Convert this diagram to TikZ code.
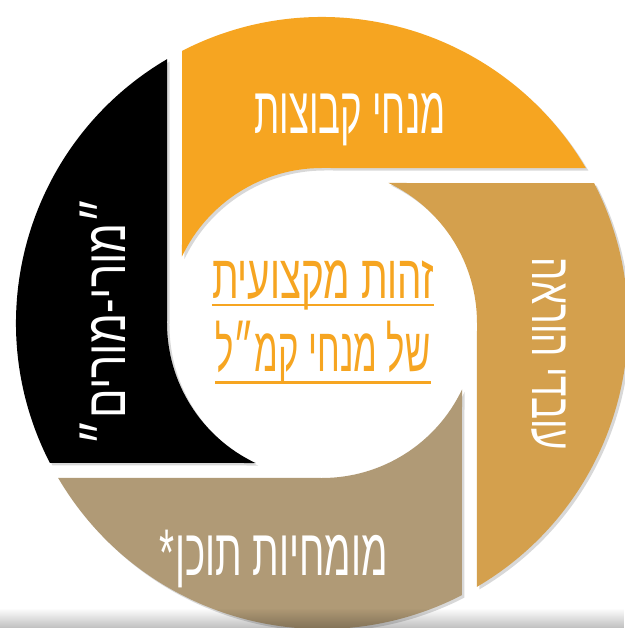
\documentclass[tikz,border=0pt]{standalone}
\usepackage{fontspec}
\newfontfamily\hebfont[Script=Hebrew]{Liberation Sans}
\TeXXeTstate=1
\usepackage{tikz}
\usetikzlibrary{positioning,shadows,fadings}

\definecolor{kamalorange}{HTML}{F6A521}
\definecolor{kamalgold}{HTML}{D4A04D}
\definecolor{kamaltan}{HTML}{B09A76}
% hebrew text squeezed to a given width
\newcommand{\heb}[2]{\resizebox{#1}{\height}{\hebfont #2}}

\begin{document}
\begin{tikzpicture}[x=1pt,y=1pt,node distance=11pt]
\tikzstyle{pinpiece} = [drop shadow={shadow xshift=2.5pt,shadow yshift=-2.5pt,opacity=0.3}]
\tikzstyle{segtext} = [text=white,inner sep=0pt,font=\fontsize{66}{72}\selectfont]
\tikzstyle{sidetext} = [text=white,inner sep=0pt,font=\fontsize{56}{62}\selectfont]
\tikzstyle{centertext} = [text=kamalorange,inner sep=0pt,font=\fontsize{62}{68}\selectfont]
\tikzstyle{underbar} = [kamalorange,line width=2.5pt]
    \useasboundingbox (-322,-305) rectangle (302,323);
    \fill[white] (-322,-305) rectangle (302,323);

    % four pieces of the wheel
    \fill[pinpiece,kamalorange] (154.6:155) arc[start angle=154.6,end angle=90,radius=155]
        -- (30.4:306) arc[start angle=30.4,end angle=117.2,radius=306] -- cycle;
    \fill[pinpiece,kamalgold] (64.6:155) arc[start angle=64.6,end angle=0,radius=155]
        -- (-59.6:306) arc[start angle=-59.6,end angle=27.2,radius=306] -- cycle;
    \fill[pinpiece,kamaltan] (-25.4:155) arc[start angle=-25.4,end angle=-90,radius=155]
        -- (-149.6:306) arc[start angle=-149.6,end angle=-62.8,radius=306] -- cycle;
    \fill[pinpiece,black] (244.6:155) arc[start angle=244.6,end angle=180,radius=155]
        -- (120.4:306) arc[start angle=120.4,end angle=207.2,radius=306] -- cycle;

    \node[segtext] (groups) at (28,203) {\heb{191pt}{\beginR מנחי קבוצות\endR}};
    \node[sidetext,rotate=-90] (teachers) at (227,-31) {\heb{192pt}{\beginR עובדי הוראה\endR}};
    \node[segtext] (content) at (-48,-236) {\heb{228pt}{\beginR מומחיות תוכן*\endR}};
    \node[sidetext,rotate=90] (mentors) at (-219,2) {\heb{248pt}{\beginR ״מורי-מורים״\endR}};

    \node[centertext] (identity) at (1,38) {\heb{222pt}{\beginR זהות מקצועית\endR}};
    \node[centertext] (identity2) [below=of identity] {\heb{215pt}{\beginR של מנחי קמ״ל\endR}};
    \draw[underbar] ([yshift=-7pt]identity.base west) -- ([yshift=-7pt]identity.base east);
    \draw[underbar] ([yshift=-11pt]identity2.base west) -- ([yshift=-11pt]identity2.base east);

    % floor shade at the bottom
    \fill[black,path fading=north,opacity=0.25] (-322,-305) rectangle (302,-285);
\end{tikzpicture}
\end{document}
